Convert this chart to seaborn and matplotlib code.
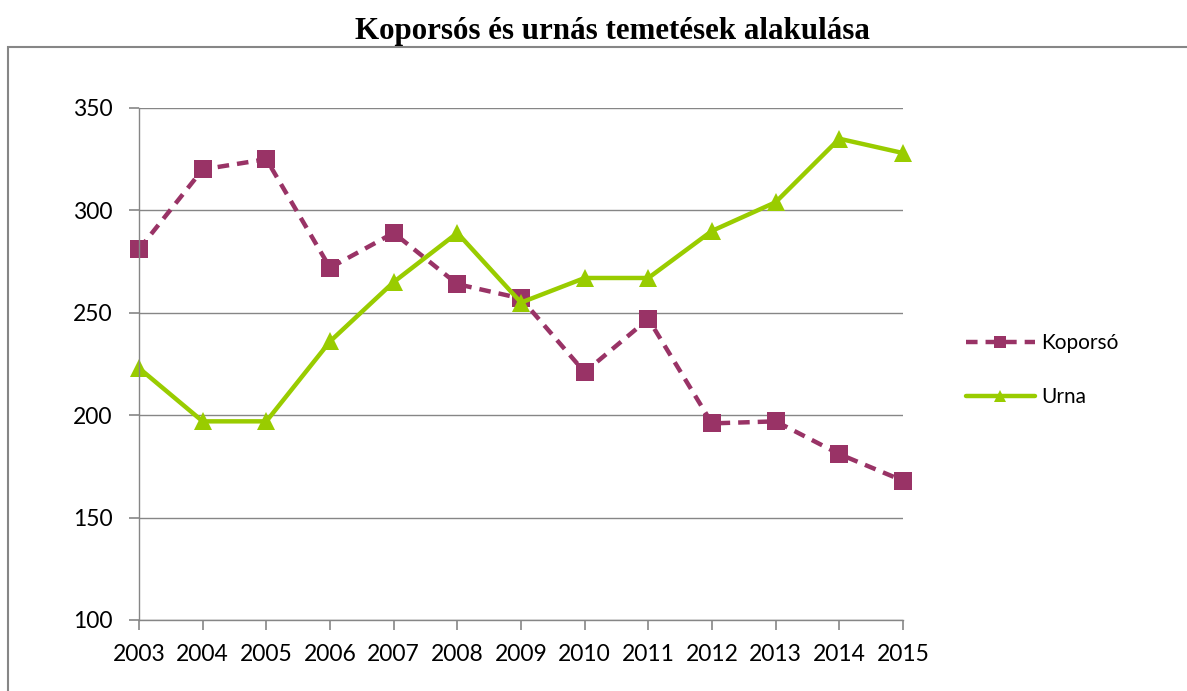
import pandas as pd
import matplotlib.pyplot as plt
import seaborn as sns
from matplotlib.patches import Rectangle

years = [2003, 2004, 2005, 2006, 2007, 2008, 2009, 2010, 2011, 2012, 2013, 2014, 2015]
koporso = [281, 320, 325, 272, 289, 264, 257, 221, 247, 196, 197, 181, 168]
urna = [223, 197, 197, 236, 265, 289, 255, 267, 267, 290, 304, 335, 328]

df = pd.concat([
    pd.DataFrame({'ev': years, 'db': koporso, 'tipus': 'Koporsó'}),
    pd.DataFrame({'ev': years, 'db': urna, 'tipus': 'Urna'}),
])

sns.set_style('white')
plt.rcParams['font.family'] = ['Lato', 'DejaVu Sans']
plt.rcParams['xtick.bottom'] = True
plt.rcParams['ytick.left'] = True

fig = plt.figure(figsize=(11.87, 6.91), dpi=100)
ax = fig.add_axes([139 / 1187, 1 - 620 / 691, (903 - 139) / 1187, (620 - 108) / 691])

colors = {'Koporsó': '#993366', 'Urna': '#99cc00'}
sns.lineplot(data=df, x='ev', y='db', hue='tipus', style='tipus', ax=ax,
             palette=colors, markers={'Koporsó': 's', 'Urna': '^'},
             dashes={'Koporsó': (2.6, 1.8), 'Urna': ''},
             linewidth=3.2, markersize=13, markeredgewidth=0, clip_on=False)

ax.set_xlim(2003, 2015)
ax.set_ylim(100, 350)
ax.set_xticks(years)
ax.set_yticks(range(100, 351, 50))
ax.tick_params(axis='both', labelsize=16.5, colors='#868686', labelcolor='black',
               length=7, width=1.2, direction='out', bottom=True, left=True)
ax.tick_params(axis='x', pad=10)
ax.tick_params(axis='y', pad=12)
ax.grid(axis='y', color='#868686', linewidth=1)
ax.set_axisbelow(True)
for s in ['top', 'right']:
    ax.spines[s].set_visible(False)
for s in ['left', 'bottom']:
    ax.spines[s].set_color('#868686')
    ax.spines[s].set_linewidth(1)
ax.set_xlabel('')
ax.set_ylabel('')

leg = ax.legend(loc='center left', bbox_to_anchor=(1.058, 0.488), frameon=False,
                fontsize=15, handlelength=3.3, labelspacing=1.65, handletextpad=0.3)
for t in leg.get_texts():
    t.set_color('black')
for h in leg.legend_handles:
    h.set_markersize(9)

fig.suptitle('Koporsós és urnás temetések alakulása', x=0.516, y=0.975,
             fontsize=22.3, fontweight='bold', color='black', family=['Liberation Serif'])

fig.add_artist(Rectangle((8 / 1187, -0.1), 1.2, 1 - 47 / 691 + 0.1, transform=fig.transFigure,
                         fill=False, edgecolor='#868686', linewidth=1.5))

fig.savefig('out.png', dpi=100)
